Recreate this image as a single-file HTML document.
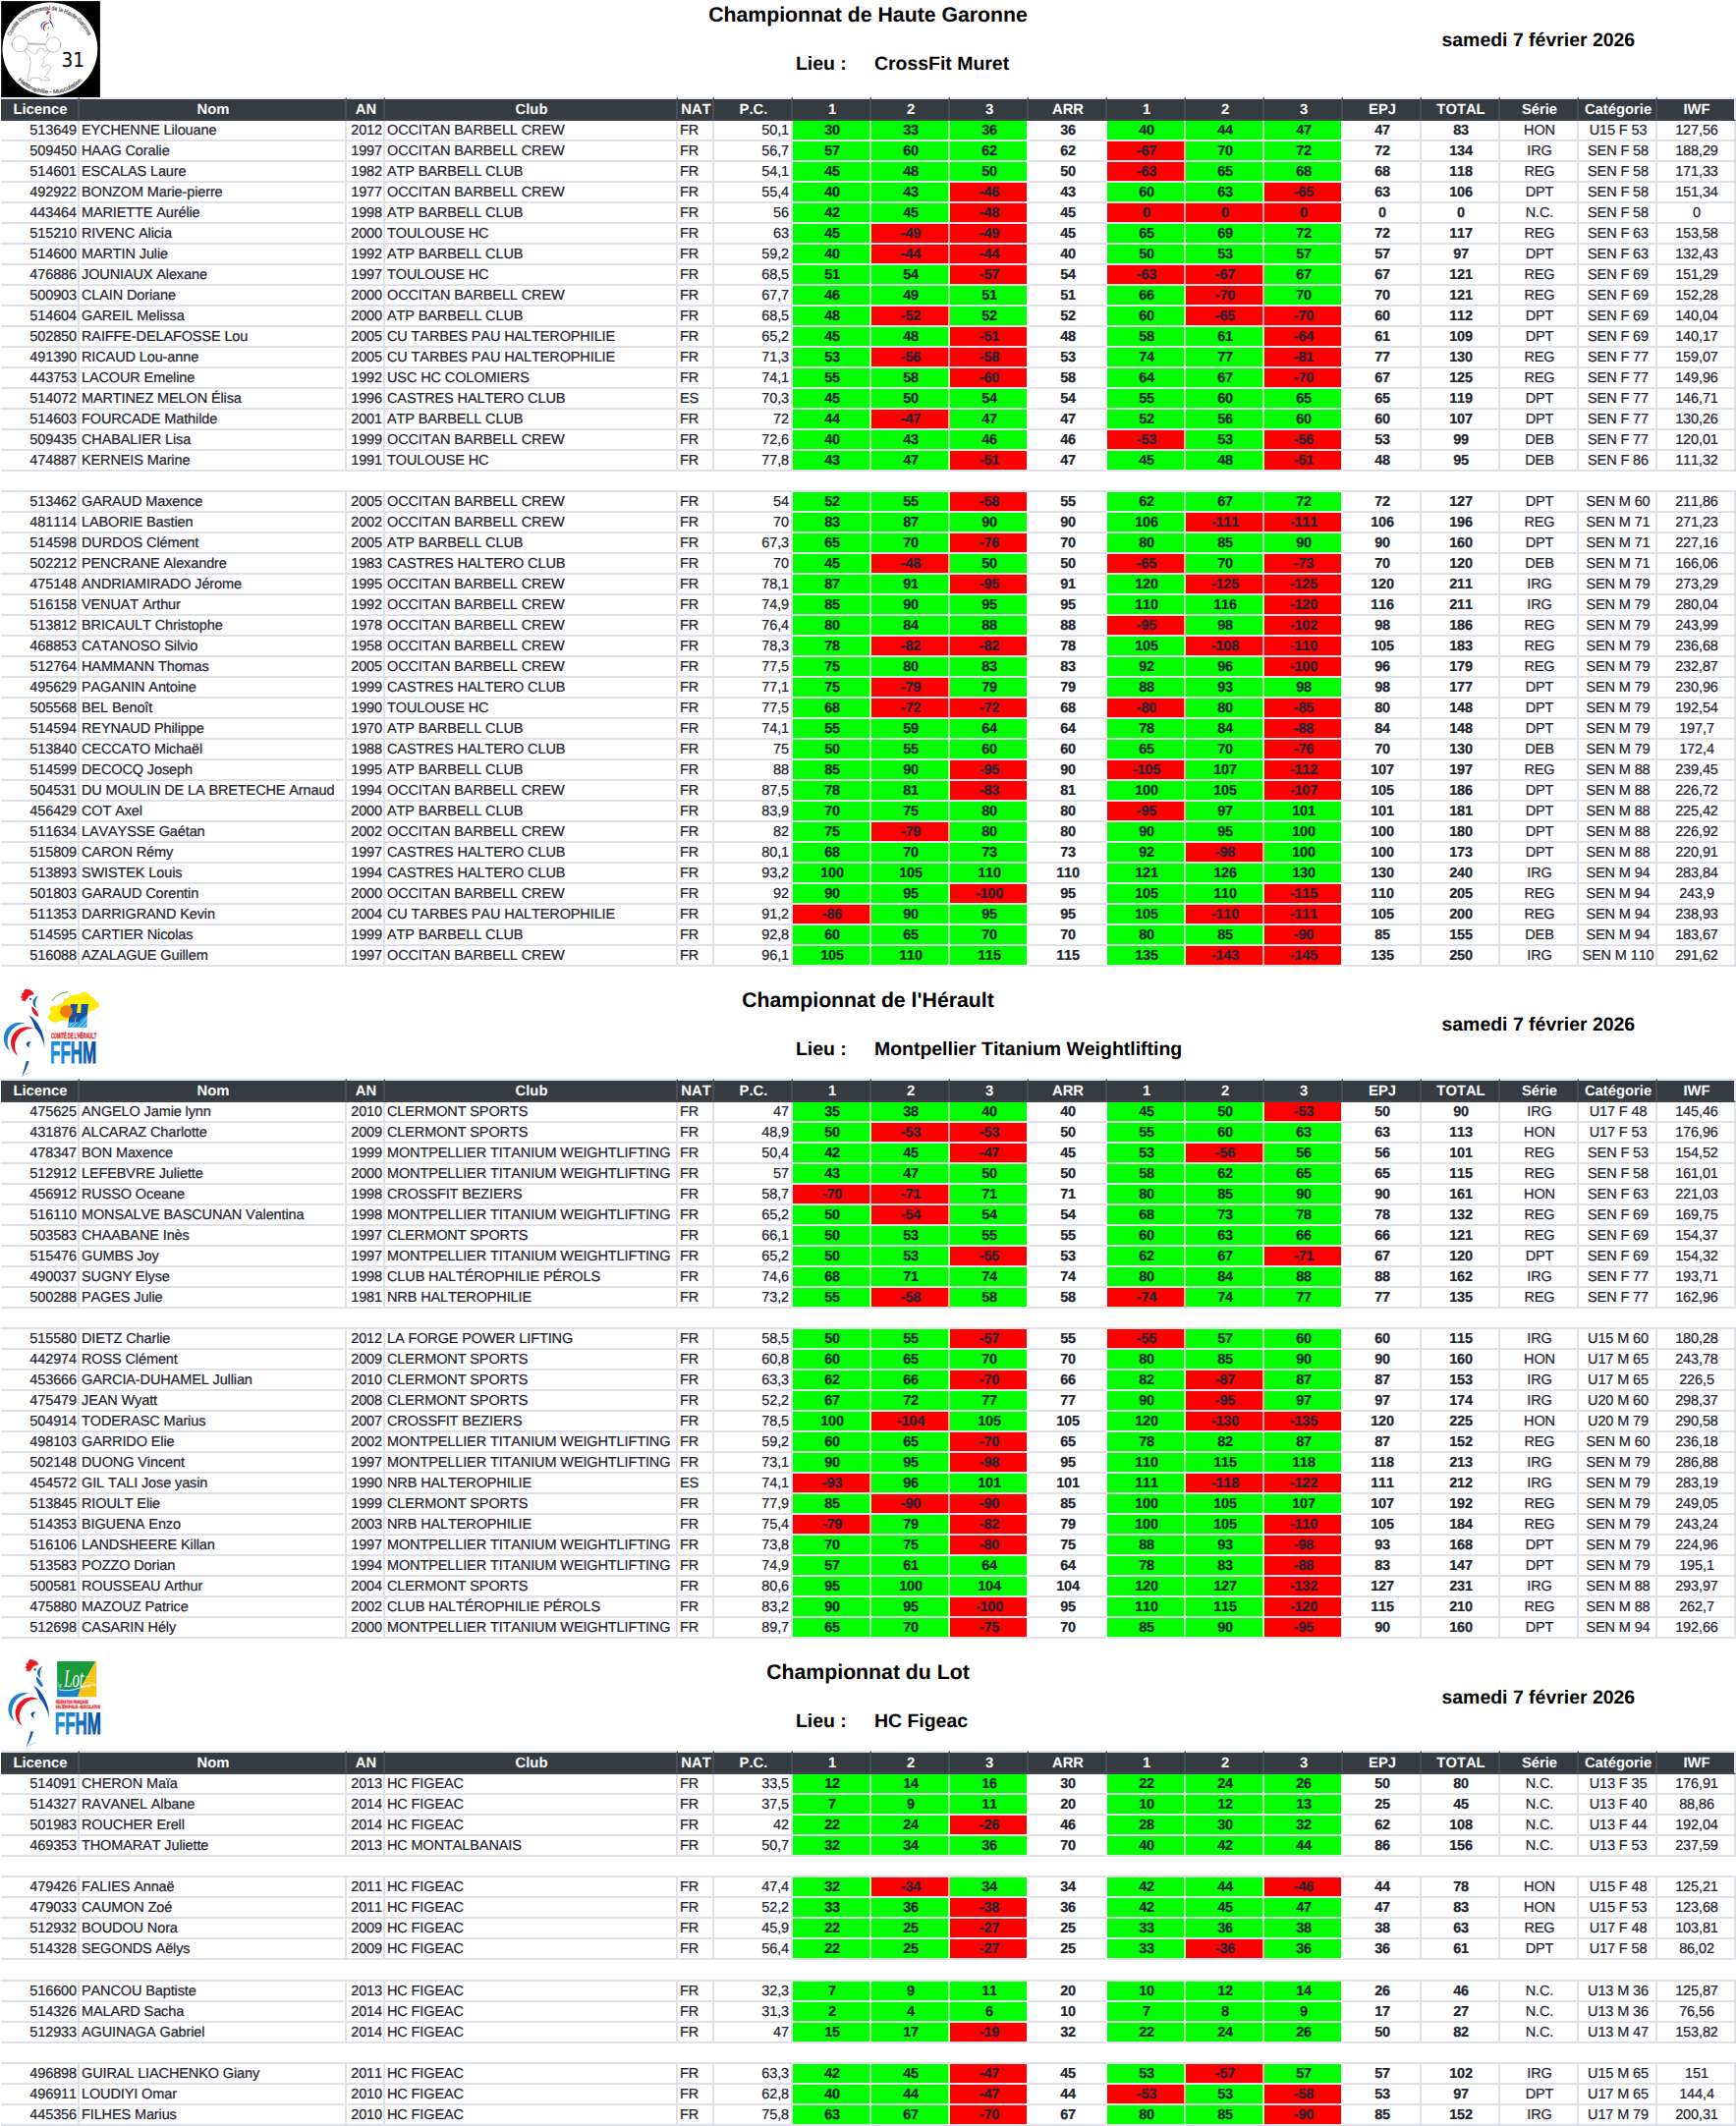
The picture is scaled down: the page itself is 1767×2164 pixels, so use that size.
<!DOCTYPE html>
<html lang="fr">
<head>
<meta charset="utf-8">
<title>Championnats départementaux</title>
<style>
html,body{margin:0;padding:0}
body{text-rendering:geometricPrecision;font-kerning:none;font-feature-settings:"kern" 0;width:1767px;height:2164px;background:#fff;position:relative;overflow:hidden;font-family:"Liberation Sans",sans-serif;color:#1e2330}
h1,.date,.lieu,.logo,table{position:absolute;margin:0}
h1{left:0;width:1767px;text-align:center;font-size:21.25px;line-height:21.25px;font-weight:bold;color:#000;white-space:nowrap}
.date{left:1467.5px;font-size:19.45px;line-height:19.45px;font-weight:bold;color:#000;white-space:nowrap}
.lieu{left:810px;font-size:19.45px;line-height:19.45px;font-weight:bold;color:#000;white-space:nowrap}
.lieu .lv{position:absolute;left:80px;top:0}
.logo{left:0;line-height:0}
.logo svg{display:block}
table{left:1px;width:1766px;border-collapse:separate;border-spacing:0;table-layout:fixed;font-size:14.5px;letter-spacing:-0.12px}
th{letter-spacing:0;box-sizing:border-box;height:24px;padding:2px 0 0 2px;background:#363b42;color:#fff;font-weight:bold;font-size:14.8px;line-height:18px;text-align:center;border-top:2px solid #e2e4e9;border-right:2px solid #4a4f57;border-bottom:2px solid #40454c;white-space:nowrap;overflow:hidden}
th:last-child{border-right-color:#e4e6eb}
td{-webkit-text-stroke:0.22px #1e2330;box-sizing:border-box;height:21px;padding:2px 0 0 2px;line-height:17px;border-right:2px solid #dfe1e7;border-bottom:2px solid #dfe1e7;white-space:nowrap;overflow:hidden;text-align:center}
td.lic{text-align:right;padding-right:1px;padding-left:0}
td.l{text-align:left;padding-left:2px}
td.an{text-align:right;padding-right:1px;padding-left:0}
td.pc{text-align:right;padding-right:2px;padding-left:0}
td.g{background:#00ff00;font-weight:bold;font-size:14.5px;letter-spacing:-0.2px;border-right-color:rgba(255,255,255,.66)}
td.r{background:#ff0000;font-weight:bold;font-size:14.5px;letter-spacing:-0.2px;border-right-color:rgba(255,255,255,.66)}
td.e{border-right-color:#fff}
td.b{font-weight:bold;font-size:14.5px;letter-spacing:-0.2px}
td.a{border-right-color:#fbfbfc}
tr.gap td{border-right:none}
tr.tall td{height:22px}
</style>
</head>
<body>
<section>
<div class="logo" style="top:0px"><svg width="110" height="105" viewBox="0 0 1736 1657" role="img" aria-label="Comité Départemental de la Haute-Garonne">
<defs><linearGradient id="rg1" x1="0" y1="0" x2="0" y2="1"><stop offset="0" stop-color="#0f4ea6"/><stop offset="0.7" stop-color="#1352a8"/><stop offset="1" stop-color="#d5def0"/></linearGradient>
<path id="arcTop" d="M172,586 A670,670 0 0 1 1418,586" fill="none"/>
<path id="arcBot" d="M289,1291 A730,730 0 0 0 1321,1291" fill="none"/>
</defs>
<rect x="18" y="18" width="1590" height="1557" fill="#000"/>
<ellipse cx="803" cy="790" rx="764" ry="751" fill="#fff"/>
<g fill="#fff" stroke="#777" stroke-width="7" stroke-linejoin="round">
<path d="M452,692 L738,704 L738,722 L452,716 Z" fill="#bbb" stroke="#999" stroke-width="4"/>
<circle cx="320" cy="705" r="128"/>
<circle cx="856" cy="720" r="120"/>
<path d="M178,690 L196,700 L196,722 L178,730" fill="none"/>
<path d="M962,692 L980,712 L962,738" fill="none"/>
<path d="M428,772 L545,876 L590,848 L610,792 L655,776 L702,792 L718,832 L770,800 L800,836 L748,886 L692,944 L704,992 L668,1058 L702,1078 L772,1040 L812,1076 L800,1124 L742,1210 L722,1232 L790,1264 L790,1292 L652,1292 L650,1268 L636,1250 L504,1250 L490,1292 L440,1292 L442,1258 L470,1150 L492,1004 L480,924 L396,822 Z"/>
</g>
<g transform="translate(636,142) scale(0.31)">
<path d="M415,108 L470,120 L522,148 L542,188 L500,202 L458,216 L436,258 L402,296 L350,286 L366,254 L332,236 L362,206 L348,176 L386,166 L384,134 Z" fill="#e8161d" stroke="#e8161d" stroke-width="8" stroke-linejoin="round"/>
<circle cx="490" cy="266" r="19" fill="#1c6db5"/>
<path d="M616,212 C536,246 484,338 582,412 C556,338 566,274 616,212 Z" fill="#1668b3"/>
<path d="M512,386 C540,392 600,470 618,528 C620,552 596,552 570,530 C530,490 500,420 512,386 Z" fill="#e8161d"/>
<path d="M462,522 C570,585 665,720 705,900 C716,960 718,1020 714,1078 C700,950 655,830 565,735 C545,660 505,585 462,522 Z" fill="url(#rg1)"/>
<path d="M402,655 A259,259 0 0 0 162,1106 A298,298 0 0 1 402,655 Z" fill="#1d82d2"/>
<path d="M546,745 A252,252 0 0 0 286,1176 A279,279 0 0 1 546,745 Z" fill="#e8161d"/>
<path d="M502,954 C450,938 412,972 428,1002 C440,1030 458,1042 478,1046 C456,1010 464,976 502,954 Z" fill="#114fa3"/>
<path d="M424,1260 L466,1266 C442,1352 402,1442 350,1508 C380,1422 404,1340 424,1260 Z" fill="#1557ab"/>
<path d="M350,1508 L492,1444" stroke="#62b1e3" stroke-width="9" fill="none" stroke-linecap="round"/>
</g>
<text font-family="'Liberation Sans',sans-serif" font-size="92" fill="#444" stroke="#444" stroke-width="3"><textPath href="#arcTop" textLength="1590" lengthAdjust="spacingAndGlyphs">Comité Départemental de la Haute-Garonne</textPath></text>
<text font-family="'Liberation Sans',sans-serif" font-size="88" fill="#444" stroke="#444" stroke-width="3"><textPath href="#arcBot" textLength="1140" lengthAdjust="spacingAndGlyphs">Haltérophilie - Musculation</textPath></text>
<text x="985" y="1080" font-family="'DejaVu Sans',sans-serif" font-size="322" fill="#000" textLength="372" lengthAdjust="spacingAndGlyphs">31</text>
</svg></div>
<h1 style="top:5.31px">Championnat de Haute Garonne</h1>
<div class="date" style="top:32.04px">samedi 7 février 2026</div>
<div class="lieu" style="top:56.04px"><span class="ll">Lieu :</span><span class="lv">CrossFit Muret</span></div>
<table style="top:99px">
<colgroup><col style="width:80px"><col style="width:272px"><col style="width:39px"><col style="width:298px"><col style="width:37px"><col style="width:80px"><col style="width:80px"><col style="width:80px"><col style="width:80px"><col style="width:80px"><col style="width:80px"><col style="width:80px"><col style="width:80px"><col style="width:80px"><col style="width:80px"><col style="width:80px"><col style="width:80px"><col style="width:80px"></colgroup>
<thead><tr><th>Licence</th><th>Nom</th><th>AN</th><th>Club</th><th>NAT</th><th>P.C.</th><th>1</th><th>2</th><th>3</th><th>ARR</th><th>1</th><th>2</th><th>3</th><th>EPJ</th><th>TOTAL</th><th>Série</th><th>Catégorie</th><th>IWF</th></tr></thead>
<tbody>
<tr><td class="lic">513649</td><td class="l">EYCHENNE Lilouane</td><td class="an">2012</td><td class="l">OCCITAN BARBELL CREW</td><td class="l">FR</td><td class="pc">50,1</td><td class="g">30</td><td class="g">33</td><td class="e g">36</td><td class="b a">36</td><td class="g">40</td><td class="g">44</td><td class="e g">47</td><td class="b a2">47</td><td class="b">83</td><td class="c">HON</td><td class="c">U15 F 53</td><td class="c">127,56</td></tr>
<tr><td class="lic">509450</td><td class="l">HAAG Coralie</td><td class="an">1997</td><td class="l">OCCITAN BARBELL CREW</td><td class="l">FR</td><td class="pc">56,7</td><td class="g">57</td><td class="g">60</td><td class="e g">62</td><td class="b a">62</td><td class="r">-67</td><td class="g">70</td><td class="e g">72</td><td class="b a2">72</td><td class="b">134</td><td class="c">IRG</td><td class="c">SEN F 58</td><td class="c">188,29</td></tr>
<tr><td class="lic">514601</td><td class="l">ESCALAS Laure</td><td class="an">1982</td><td class="l">ATP BARBELL CLUB</td><td class="l">FR</td><td class="pc">54,1</td><td class="g">45</td><td class="g">48</td><td class="e g">50</td><td class="b a">50</td><td class="r">-63</td><td class="g">65</td><td class="e g">68</td><td class="b a2">68</td><td class="b">118</td><td class="c">REG</td><td class="c">SEN F 58</td><td class="c">171,33</td></tr>
<tr><td class="lic">492922</td><td class="l">BONZOM Marie-pierre</td><td class="an">1977</td><td class="l">OCCITAN BARBELL CREW</td><td class="l">FR</td><td class="pc">55,4</td><td class="g">40</td><td class="g">43</td><td class="e r">-46</td><td class="b a">43</td><td class="g">60</td><td class="g">63</td><td class="e r">-65</td><td class="b a2">63</td><td class="b">106</td><td class="c">DPT</td><td class="c">SEN F 58</td><td class="c">151,34</td></tr>
<tr><td class="lic">443464</td><td class="l">MARIETTE Aurélie</td><td class="an">1998</td><td class="l">ATP BARBELL CLUB</td><td class="l">FR</td><td class="pc">56</td><td class="g">42</td><td class="g">45</td><td class="e r">-48</td><td class="b a">45</td><td class="r">0</td><td class="r">0</td><td class="e r">0</td><td class="b a2">0</td><td class="b">0</td><td class="c">N.C.</td><td class="c">SEN F 58</td><td class="c">0</td></tr>
<tr><td class="lic">515210</td><td class="l">RIVENC Alicia</td><td class="an">2000</td><td class="l">TOULOUSE HC</td><td class="l">FR</td><td class="pc">63</td><td class="g">45</td><td class="r">-49</td><td class="e r">-49</td><td class="b a">45</td><td class="g">65</td><td class="g">69</td><td class="e g">72</td><td class="b a2">72</td><td class="b">117</td><td class="c">REG</td><td class="c">SEN F 63</td><td class="c">153,58</td></tr>
<tr><td class="lic">514600</td><td class="l">MARTIN Julie</td><td class="an">1992</td><td class="l">ATP BARBELL CLUB</td><td class="l">FR</td><td class="pc">59,2</td><td class="g">40</td><td class="r">-44</td><td class="e r">-44</td><td class="b a">40</td><td class="g">50</td><td class="g">53</td><td class="e g">57</td><td class="b a2">57</td><td class="b">97</td><td class="c">DPT</td><td class="c">SEN F 63</td><td class="c">132,43</td></tr>
<tr><td class="lic">476886</td><td class="l">JOUNIAUX Alexane</td><td class="an">1997</td><td class="l">TOULOUSE HC</td><td class="l">FR</td><td class="pc">68,5</td><td class="g">51</td><td class="g">54</td><td class="e r">-57</td><td class="b a">54</td><td class="r">-63</td><td class="r">-67</td><td class="e g">67</td><td class="b a2">67</td><td class="b">121</td><td class="c">REG</td><td class="c">SEN F 69</td><td class="c">151,29</td></tr>
<tr><td class="lic">500903</td><td class="l">CLAIN Doriane</td><td class="an">2000</td><td class="l">OCCITAN BARBELL CREW</td><td class="l">FR</td><td class="pc">67,7</td><td class="g">46</td><td class="g">49</td><td class="e g">51</td><td class="b a">51</td><td class="g">66</td><td class="r">-70</td><td class="e g">70</td><td class="b a2">70</td><td class="b">121</td><td class="c">REG</td><td class="c">SEN F 69</td><td class="c">152,28</td></tr>
<tr><td class="lic">514604</td><td class="l">GAREIL Melissa</td><td class="an">2000</td><td class="l">ATP BARBELL CLUB</td><td class="l">FR</td><td class="pc">68,5</td><td class="g">48</td><td class="r">-52</td><td class="e g">52</td><td class="b a">52</td><td class="g">60</td><td class="r">-65</td><td class="e r">-70</td><td class="b a2">60</td><td class="b">112</td><td class="c">DPT</td><td class="c">SEN F 69</td><td class="c">140,04</td></tr>
<tr><td class="lic">502850</td><td class="l">RAIFFE-DELAFOSSE Lou</td><td class="an">2005</td><td class="l">CU TARBES PAU HALTEROPHILIE</td><td class="l">FR</td><td class="pc">65,2</td><td class="g">45</td><td class="g">48</td><td class="e r">-51</td><td class="b a">48</td><td class="g">58</td><td class="g">61</td><td class="e r">-64</td><td class="b a2">61</td><td class="b">109</td><td class="c">DPT</td><td class="c">SEN F 69</td><td class="c">140,17</td></tr>
<tr><td class="lic">491390</td><td class="l">RICAUD Lou-anne</td><td class="an">2005</td><td class="l">CU TARBES PAU HALTEROPHILIE</td><td class="l">FR</td><td class="pc">71,3</td><td class="g">53</td><td class="r">-56</td><td class="e r">-58</td><td class="b a">53</td><td class="g">74</td><td class="g">77</td><td class="e r">-81</td><td class="b a2">77</td><td class="b">130</td><td class="c">REG</td><td class="c">SEN F 77</td><td class="c">159,07</td></tr>
<tr><td class="lic">443753</td><td class="l">LACOUR Emeline</td><td class="an">1992</td><td class="l">USC HC COLOMIERS</td><td class="l">FR</td><td class="pc">74,1</td><td class="g">55</td><td class="g">58</td><td class="e r">-60</td><td class="b a">58</td><td class="g">64</td><td class="g">67</td><td class="e r">-70</td><td class="b a2">67</td><td class="b">125</td><td class="c">REG</td><td class="c">SEN F 77</td><td class="c">149,96</td></tr>
<tr><td class="lic">514072</td><td class="l">MARTINEZ MELON Élisa</td><td class="an">1996</td><td class="l">CASTRES HALTERO CLUB</td><td class="l">ES</td><td class="pc">70,3</td><td class="g">45</td><td class="g">50</td><td class="e g">54</td><td class="b a">54</td><td class="g">55</td><td class="g">60</td><td class="e g">65</td><td class="b a2">65</td><td class="b">119</td><td class="c">DPT</td><td class="c">SEN F 77</td><td class="c">146,71</td></tr>
<tr><td class="lic">514603</td><td class="l">FOURCADE Mathilde</td><td class="an">2001</td><td class="l">ATP BARBELL CLUB</td><td class="l">FR</td><td class="pc">72</td><td class="g">44</td><td class="r">-47</td><td class="e g">47</td><td class="b a">47</td><td class="g">52</td><td class="g">56</td><td class="e g">60</td><td class="b a2">60</td><td class="b">107</td><td class="c">DPT</td><td class="c">SEN F 77</td><td class="c">130,26</td></tr>
<tr><td class="lic">509435</td><td class="l">CHABALIER Lisa</td><td class="an">1999</td><td class="l">OCCITAN BARBELL CREW</td><td class="l">FR</td><td class="pc">72,6</td><td class="g">40</td><td class="g">43</td><td class="e g">46</td><td class="b a">46</td><td class="r">-53</td><td class="g">53</td><td class="e r">-56</td><td class="b a2">53</td><td class="b">99</td><td class="c">DEB</td><td class="c">SEN F 77</td><td class="c">120,01</td></tr>
<tr><td class="lic">474887</td><td class="l">KERNEIS Marine</td><td class="an">1991</td><td class="l">TOULOUSE HC</td><td class="l">FR</td><td class="pc">77,8</td><td class="g">43</td><td class="g">47</td><td class="e r">-51</td><td class="b a">47</td><td class="g">45</td><td class="g">48</td><td class="e r">-51</td><td class="b a2">48</td><td class="b">95</td><td class="c">DEB</td><td class="c">SEN F 86</td><td class="c">111,32</td></tr>
<tr class="gap"><td colspan="18"></td></tr>
<tr><td class="lic">513462</td><td class="l">GARAUD Maxence</td><td class="an">2005</td><td class="l">OCCITAN BARBELL CREW</td><td class="l">FR</td><td class="pc">54</td><td class="g">52</td><td class="g">55</td><td class="e r">-58</td><td class="b a">55</td><td class="g">62</td><td class="g">67</td><td class="e g">72</td><td class="b a2">72</td><td class="b">127</td><td class="c">DPT</td><td class="c">SEN M 60</td><td class="c">211,86</td></tr>
<tr><td class="lic">481114</td><td class="l">LABORIE Bastien</td><td class="an">2002</td><td class="l">OCCITAN BARBELL CREW</td><td class="l">FR</td><td class="pc">70</td><td class="g">83</td><td class="g">87</td><td class="e g">90</td><td class="b a">90</td><td class="g">106</td><td class="r">-111</td><td class="e r">-111</td><td class="b a2">106</td><td class="b">196</td><td class="c">REG</td><td class="c">SEN M 71</td><td class="c">271,23</td></tr>
<tr><td class="lic">514598</td><td class="l">DURDOS Clément</td><td class="an">2005</td><td class="l">ATP BARBELL CLUB</td><td class="l">FR</td><td class="pc">67,3</td><td class="g">65</td><td class="g">70</td><td class="e r">-76</td><td class="b a">70</td><td class="g">80</td><td class="g">85</td><td class="e g">90</td><td class="b a2">90</td><td class="b">160</td><td class="c">DPT</td><td class="c">SEN M 71</td><td class="c">227,16</td></tr>
<tr><td class="lic">502212</td><td class="l">PENCRANE Alexandre</td><td class="an">1983</td><td class="l">CASTRES HALTERO CLUB</td><td class="l">FR</td><td class="pc">70</td><td class="g">45</td><td class="r">-48</td><td class="e g">50</td><td class="b a">50</td><td class="r">-65</td><td class="g">70</td><td class="e r">-73</td><td class="b a2">70</td><td class="b">120</td><td class="c">DEB</td><td class="c">SEN M 71</td><td class="c">166,06</td></tr>
<tr><td class="lic">475148</td><td class="l">ANDRIAMIRADO Jérome</td><td class="an">1995</td><td class="l">OCCITAN BARBELL CREW</td><td class="l">FR</td><td class="pc">78,1</td><td class="g">87</td><td class="g">91</td><td class="e r">-95</td><td class="b a">91</td><td class="g">120</td><td class="r">-125</td><td class="e r">-125</td><td class="b a2">120</td><td class="b">211</td><td class="c">IRG</td><td class="c">SEN M 79</td><td class="c">273,29</td></tr>
<tr><td class="lic">516158</td><td class="l">VENUAT Arthur</td><td class="an">1992</td><td class="l">OCCITAN BARBELL CREW</td><td class="l">FR</td><td class="pc">74,9</td><td class="g">85</td><td class="g">90</td><td class="e g">95</td><td class="b a">95</td><td class="g">110</td><td class="g">116</td><td class="e r">-120</td><td class="b a2">116</td><td class="b">211</td><td class="c">IRG</td><td class="c">SEN M 79</td><td class="c">280,04</td></tr>
<tr><td class="lic">513812</td><td class="l">BRICAULT Christophe</td><td class="an">1978</td><td class="l">OCCITAN BARBELL CREW</td><td class="l">FR</td><td class="pc">76,4</td><td class="g">80</td><td class="g">84</td><td class="e g">88</td><td class="b a">88</td><td class="r">-95</td><td class="g">98</td><td class="e r">-102</td><td class="b a2">98</td><td class="b">186</td><td class="c">REG</td><td class="c">SEN M 79</td><td class="c">243,99</td></tr>
<tr><td class="lic">468853</td><td class="l">CATANOSO Silvio</td><td class="an">1958</td><td class="l">OCCITAN BARBELL CREW</td><td class="l">FR</td><td class="pc">78,3</td><td class="g">78</td><td class="r">-82</td><td class="e r">-82</td><td class="b a">78</td><td class="g">105</td><td class="r">-108</td><td class="e r">-110</td><td class="b a2">105</td><td class="b">183</td><td class="c">REG</td><td class="c">SEN M 79</td><td class="c">236,68</td></tr>
<tr><td class="lic">512764</td><td class="l">HAMMANN Thomas</td><td class="an">2005</td><td class="l">OCCITAN BARBELL CREW</td><td class="l">FR</td><td class="pc">77,5</td><td class="g">75</td><td class="g">80</td><td class="e g">83</td><td class="b a">83</td><td class="g">92</td><td class="g">96</td><td class="e r">-100</td><td class="b a2">96</td><td class="b">179</td><td class="c">REG</td><td class="c">SEN M 79</td><td class="c">232,87</td></tr>
<tr><td class="lic">495629</td><td class="l">PAGANIN Antoine</td><td class="an">1999</td><td class="l">CASTRES HALTERO CLUB</td><td class="l">FR</td><td class="pc">77,1</td><td class="g">75</td><td class="r">-79</td><td class="e g">79</td><td class="b a">79</td><td class="g">88</td><td class="g">93</td><td class="e g">98</td><td class="b a2">98</td><td class="b">177</td><td class="c">DPT</td><td class="c">SEN M 79</td><td class="c">230,96</td></tr>
<tr><td class="lic">505568</td><td class="l">BEL Benoît</td><td class="an">1990</td><td class="l">TOULOUSE HC</td><td class="l">FR</td><td class="pc">77,5</td><td class="g">68</td><td class="r">-72</td><td class="e r">-72</td><td class="b a">68</td><td class="r">-80</td><td class="g">80</td><td class="e r">-85</td><td class="b a2">80</td><td class="b">148</td><td class="c">DPT</td><td class="c">SEN M 79</td><td class="c">192,54</td></tr>
<tr><td class="lic">514594</td><td class="l">REYNAUD Philippe</td><td class="an">1970</td><td class="l">ATP BARBELL CLUB</td><td class="l">FR</td><td class="pc">74,1</td><td class="g">55</td><td class="g">59</td><td class="e g">64</td><td class="b a">64</td><td class="g">78</td><td class="g">84</td><td class="e r">-88</td><td class="b a2">84</td><td class="b">148</td><td class="c">DPT</td><td class="c">SEN M 79</td><td class="c">197,7</td></tr>
<tr><td class="lic">513840</td><td class="l">CECCATO Michaël</td><td class="an">1988</td><td class="l">CASTRES HALTERO CLUB</td><td class="l">FR</td><td class="pc">75</td><td class="g">50</td><td class="g">55</td><td class="e g">60</td><td class="b a">60</td><td class="g">65</td><td class="g">70</td><td class="e r">-76</td><td class="b a2">70</td><td class="b">130</td><td class="c">DEB</td><td class="c">SEN M 79</td><td class="c">172,4</td></tr>
<tr><td class="lic">514599</td><td class="l">DECOCQ Joseph</td><td class="an">1995</td><td class="l">ATP BARBELL CLUB</td><td class="l">FR</td><td class="pc">88</td><td class="g">85</td><td class="g">90</td><td class="e r">-95</td><td class="b a">90</td><td class="r">-105</td><td class="g">107</td><td class="e r">-112</td><td class="b a2">107</td><td class="b">197</td><td class="c">REG</td><td class="c">SEN M 88</td><td class="c">239,45</td></tr>
<tr><td class="lic">504531</td><td class="l">DU MOULIN DE LA BRETECHE Arnaud</td><td class="an">1994</td><td class="l">OCCITAN BARBELL CREW</td><td class="l">FR</td><td class="pc">87,5</td><td class="g">78</td><td class="g">81</td><td class="e r">-83</td><td class="b a">81</td><td class="g">100</td><td class="g">105</td><td class="e r">-107</td><td class="b a2">105</td><td class="b">186</td><td class="c">DPT</td><td class="c">SEN M 88</td><td class="c">226,72</td></tr>
<tr><td class="lic">456429</td><td class="l">COT Axel</td><td class="an">2000</td><td class="l">ATP BARBELL CLUB</td><td class="l">FR</td><td class="pc">83,9</td><td class="g">70</td><td class="g">75</td><td class="e g">80</td><td class="b a">80</td><td class="r">-95</td><td class="g">97</td><td class="e g">101</td><td class="b a2">101</td><td class="b">181</td><td class="c">DPT</td><td class="c">SEN M 88</td><td class="c">225,42</td></tr>
<tr><td class="lic">511634</td><td class="l">LAVAYSSE Gaétan</td><td class="an">2002</td><td class="l">OCCITAN BARBELL CREW</td><td class="l">FR</td><td class="pc">82</td><td class="g">75</td><td class="r">-79</td><td class="e g">80</td><td class="b a">80</td><td class="g">90</td><td class="g">95</td><td class="e g">100</td><td class="b a2">100</td><td class="b">180</td><td class="c">DPT</td><td class="c">SEN M 88</td><td class="c">226,92</td></tr>
<tr><td class="lic">515809</td><td class="l">CARON Rémy</td><td class="an">1997</td><td class="l">CASTRES HALTERO CLUB</td><td class="l">FR</td><td class="pc">80,1</td><td class="g">68</td><td class="g">70</td><td class="e g">73</td><td class="b a">73</td><td class="g">92</td><td class="r">-98</td><td class="e g">100</td><td class="b a2">100</td><td class="b">173</td><td class="c">DPT</td><td class="c">SEN M 88</td><td class="c">220,91</td></tr>
<tr><td class="lic">513893</td><td class="l">SWISTEK Louis</td><td class="an">1994</td><td class="l">CASTRES HALTERO CLUB</td><td class="l">FR</td><td class="pc">93,2</td><td class="g">100</td><td class="g">105</td><td class="e g">110</td><td class="b a">110</td><td class="g">121</td><td class="g">126</td><td class="e g">130</td><td class="b a2">130</td><td class="b">240</td><td class="c">IRG</td><td class="c">SEN M 94</td><td class="c">283,84</td></tr>
<tr><td class="lic">501803</td><td class="l">GARAUD Corentin</td><td class="an">2000</td><td class="l">OCCITAN BARBELL CREW</td><td class="l">FR</td><td class="pc">92</td><td class="g">90</td><td class="g">95</td><td class="e r">-100</td><td class="b a">95</td><td class="g">105</td><td class="g">110</td><td class="e r">-115</td><td class="b a2">110</td><td class="b">205</td><td class="c">REG</td><td class="c">SEN M 94</td><td class="c">243,9</td></tr>
<tr><td class="lic">511353</td><td class="l">DARRIGRAND Kevin</td><td class="an">2004</td><td class="l">CU TARBES PAU HALTEROPHILIE</td><td class="l">FR</td><td class="pc">91,2</td><td class="r">-86</td><td class="g">90</td><td class="e g">95</td><td class="b a">95</td><td class="g">105</td><td class="r">-110</td><td class="e r">-111</td><td class="b a2">105</td><td class="b">200</td><td class="c">REG</td><td class="c">SEN M 94</td><td class="c">238,93</td></tr>
<tr><td class="lic">514595</td><td class="l">CARTIER Nicolas</td><td class="an">1999</td><td class="l">ATP BARBELL CLUB</td><td class="l">FR</td><td class="pc">92,8</td><td class="g">60</td><td class="g">65</td><td class="e g">70</td><td class="b a">70</td><td class="g">80</td><td class="g">85</td><td class="e r">-90</td><td class="b a2">85</td><td class="b">155</td><td class="c">DEB</td><td class="c">SEN M 94</td><td class="c">183,67</td></tr>
<tr><td class="lic">516088</td><td class="l">AZALAGUE Guillem</td><td class="an">1997</td><td class="l">OCCITAN BARBELL CREW</td><td class="l">FR</td><td class="pc">96,1</td><td class="g">105</td><td class="g">110</td><td class="e g">115</td><td class="b a">115</td><td class="g">135</td><td class="r">-143</td><td class="e r">-145</td><td class="b a2">135</td><td class="b">250</td><td class="c">IRG</td><td class="c">SEN M 110</td><td class="c">291,62</td></tr>
</tbody>
</table>
</section>
<section>
<div class="logo" style="top:1000px"><svg width="110" height="100" viewBox="0 0 1736 1578" role="img" aria-label="FFHM Comité de l'Hérault">
<defs><linearGradient id="rg2" x1="0" y1="0" x2="0" y2="1"><stop offset="0" stop-color="#0f4ea6"/><stop offset="0.7" stop-color="#1352a8"/><stop offset="1" stop-color="#d5def0"/></linearGradient><linearGradient id="fg2" x1="0" y1="0" x2="1" y2="0"><stop offset="0" stop-color="#1c97de"/><stop offset="0.5" stop-color="#1378c6"/><stop offset="1" stop-color="#0a479d"/></linearGradient></defs>
<g transform="translate(0,0) scale(1)">
<path d="M415,108 L470,120 L522,148 L542,188 L500,202 L458,216 L436,258 L402,296 L350,286 L366,254 L332,236 L362,206 L348,176 L386,166 L384,134 Z" fill="#e8161d" stroke="#e8161d" stroke-width="8" stroke-linejoin="round"/>
<circle cx="490" cy="266" r="19" fill="#1c6db5"/>
<path d="M616,212 C536,246 484,338 582,412 C556,338 566,274 616,212 Z" fill="#1668b3"/>
<path d="M512,386 C540,392 600,470 618,528 C620,552 596,552 570,530 C530,490 500,420 512,386 Z" fill="#e8161d"/>
<path d="M462,522 C570,585 665,720 705,900 C716,960 718,1020 714,1078 C700,950 655,830 565,735 C545,660 505,585 462,522 Z" fill="url(#rg2)"/>
<path d="M402,655 A259,259 0 0 0 162,1106 A298,298 0 0 1 402,655 Z" fill="#1d82d2"/>
<path d="M546,745 A252,252 0 0 0 286,1176 A279,279 0 0 1 546,745 Z" fill="#e8161d"/>
<path d="M502,954 C450,938 412,972 428,1002 C440,1030 458,1042 478,1046 C456,1010 464,976 502,954 Z" fill="#114fa3"/>
<path d="M424,1260 L466,1266 C442,1352 402,1442 350,1508 C380,1422 404,1340 424,1260 Z" fill="#1557ab"/>
<path d="M350,1508 L492,1444" stroke="#62b1e3" stroke-width="9" fill="none" stroke-linecap="round"/>
</g>
<path d="M842,292 Q905,180 1082,152" stroke="#43b02a" stroke-width="15" fill="none" stroke-linecap="round"/>
<path d="M835,372 L900,385 L962,358 L1022,336 L1032,268 L1100,256 L1122,214 L1200,206 L1290,186 L1352,154 L1420,176 L1442,216 L1482,236 L1532,292 L1592,346 L1586,386 L1502,440 L1432,470 L1402,520 L1332,560 L1252,600 L1152,622 L1082,610 L1002,600 L932,626 L880,640 L800,600 L764,566 L800,520 L830,480 L810,430 Z" fill="#ffee00" stroke="#f6c900" stroke-width="5" stroke-linejoin="round"/>
<path d="M1402,520 L1396,722 L1082,722 L1100,640 L1252,600 Z" fill="#2aa3e2"/>
<path d="M1090,700 L1240,610 M1150,722 L1300,585 M1260,722 L1400,560 M1330,722 L1400,640" stroke="#fff" stroke-width="10" fill="none"/>
<path d="M1135,348 L1248,348 L1232,488 L1298,488 L1306,348 L1420,348 L1400,520 L1300,590 L1270,640 L1215,640 L1222,546 L1216,546 L1200,640 L1100,640 Z" fill="#1d4fa6"/>
<circle cx="1065" cy="465" r="100" fill="#f07c00"/>
<text x="820" y="893" font-family="'Liberation Sans',sans-serif" font-weight="bold" font-size="126" fill="#e0242c" stroke="#e0242c" stroke-width="5" textLength="730" lengthAdjust="spacingAndGlyphs">COMITÉ DE L'HÉRAULT</text>
<text x="806" y="1298" font-family="'Liberation Sans',sans-serif" font-weight="bold" font-size="496" fill="url(#fg2)" stroke="url(#fg2)" stroke-width="14" textLength="745" lengthAdjust="spacingAndGlyphs">FFHM</text>
</svg></div>
<h1 style="top:1007.91px">Championnat de l&#x27;Hérault</h1>
<div class="date" style="top:1033.64px">samedi 7 février 2026</div>
<div class="lieu" style="top:1059.04px"><span class="ll">Lieu :</span><span class="lv">Montpellier Titanium Weightlifting</span></div>
<table style="top:1098px">
<colgroup><col style="width:80px"><col style="width:272px"><col style="width:39px"><col style="width:298px"><col style="width:37px"><col style="width:80px"><col style="width:80px"><col style="width:80px"><col style="width:80px"><col style="width:80px"><col style="width:80px"><col style="width:80px"><col style="width:80px"><col style="width:80px"><col style="width:80px"><col style="width:80px"><col style="width:80px"><col style="width:80px"></colgroup>
<thead><tr><th>Licence</th><th>Nom</th><th>AN</th><th>Club</th><th>NAT</th><th>P.C.</th><th>1</th><th>2</th><th>3</th><th>ARR</th><th>1</th><th>2</th><th>3</th><th>EPJ</th><th>TOTAL</th><th>Série</th><th>Catégorie</th><th>IWF</th></tr></thead>
<tbody>
<tr><td class="lic">475625</td><td class="l">ANGELO Jamie lynn</td><td class="an">2010</td><td class="l">CLERMONT SPORTS</td><td class="l">FR</td><td class="pc">47</td><td class="g">35</td><td class="g">38</td><td class="e g">40</td><td class="b a">40</td><td class="g">45</td><td class="g">50</td><td class="e r">-53</td><td class="b a2">50</td><td class="b">90</td><td class="c">IRG</td><td class="c">U17 F 48</td><td class="c">145,46</td></tr>
<tr><td class="lic">431876</td><td class="l">ALCARAZ Charlotte</td><td class="an">2009</td><td class="l">CLERMONT SPORTS</td><td class="l">FR</td><td class="pc">48,9</td><td class="g">50</td><td class="r">-53</td><td class="e r">-53</td><td class="b a">50</td><td class="g">55</td><td class="g">60</td><td class="e g">63</td><td class="b a2">63</td><td class="b">113</td><td class="c">HON</td><td class="c">U17 F 53</td><td class="c">176,96</td></tr>
<tr><td class="lic">478347</td><td class="l">BON Maxence</td><td class="an">1999</td><td class="l">MONTPELLIER TITANIUM WEIGHTLIFTING</td><td class="l">FR</td><td class="pc">50,4</td><td class="g">42</td><td class="g">45</td><td class="e r">-47</td><td class="b a">45</td><td class="g">53</td><td class="r">-56</td><td class="e g">56</td><td class="b a2">56</td><td class="b">101</td><td class="c">REG</td><td class="c">SEN F 53</td><td class="c">154,52</td></tr>
<tr><td class="lic">512912</td><td class="l">LEFEBVRE Juliette</td><td class="an">2000</td><td class="l">MONTPELLIER TITANIUM WEIGHTLIFTING</td><td class="l">FR</td><td class="pc">57</td><td class="g">43</td><td class="g">47</td><td class="e g">50</td><td class="b a">50</td><td class="g">58</td><td class="g">62</td><td class="e g">65</td><td class="b a2">65</td><td class="b">115</td><td class="c">REG</td><td class="c">SEN F 58</td><td class="c">161,01</td></tr>
<tr><td class="lic">456912</td><td class="l">RUSSO Oceane</td><td class="an">1998</td><td class="l">CROSSFIT BEZIERS</td><td class="l">FR</td><td class="pc">58,7</td><td class="r">-70</td><td class="r">-71</td><td class="e g">71</td><td class="b a">71</td><td class="g">80</td><td class="g">85</td><td class="e g">90</td><td class="b a2">90</td><td class="b">161</td><td class="c">HON</td><td class="c">SEN F 63</td><td class="c">221,03</td></tr>
<tr><td class="lic">516110</td><td class="l">MONSALVE BASCUNAN Valentina</td><td class="an">1998</td><td class="l">MONTPELLIER TITANIUM WEIGHTLIFTING</td><td class="l">FR</td><td class="pc">65,2</td><td class="g">50</td><td class="r">-54</td><td class="e g">54</td><td class="b a">54</td><td class="g">68</td><td class="g">73</td><td class="e g">78</td><td class="b a2">78</td><td class="b">132</td><td class="c">REG</td><td class="c">SEN F 69</td><td class="c">169,75</td></tr>
<tr><td class="lic">503583</td><td class="l">CHAABANE Inès</td><td class="an">1997</td><td class="l">CLERMONT SPORTS</td><td class="l">FR</td><td class="pc">66,1</td><td class="g">50</td><td class="g">53</td><td class="e g">55</td><td class="b a">55</td><td class="g">60</td><td class="g">63</td><td class="e g">66</td><td class="b a2">66</td><td class="b">121</td><td class="c">REG</td><td class="c">SEN F 69</td><td class="c">154,37</td></tr>
<tr><td class="lic">515476</td><td class="l">GUMBS Joy</td><td class="an">1997</td><td class="l">MONTPELLIER TITANIUM WEIGHTLIFTING</td><td class="l">FR</td><td class="pc">65,2</td><td class="g">50</td><td class="g">53</td><td class="e r">-55</td><td class="b a">53</td><td class="g">62</td><td class="g">67</td><td class="e r">-71</td><td class="b a2">67</td><td class="b">120</td><td class="c">DPT</td><td class="c">SEN F 69</td><td class="c">154,32</td></tr>
<tr><td class="lic">490037</td><td class="l">SUGNY Elyse</td><td class="an">1998</td><td class="l">CLUB HALTÉROPHILIE PÉROLS</td><td class="l">FR</td><td class="pc">74,6</td><td class="g">68</td><td class="g">71</td><td class="e g">74</td><td class="b a">74</td><td class="g">80</td><td class="g">84</td><td class="e g">88</td><td class="b a2">88</td><td class="b">162</td><td class="c">IRG</td><td class="c">SEN F 77</td><td class="c">193,71</td></tr>
<tr><td class="lic">500288</td><td class="l">PAGES Julie</td><td class="an">1981</td><td class="l">NRB HALTEROPHILIE</td><td class="l">FR</td><td class="pc">73,2</td><td class="g">55</td><td class="r">-58</td><td class="e g">58</td><td class="b a">58</td><td class="r">-74</td><td class="g">74</td><td class="e g">77</td><td class="b a2">77</td><td class="b">135</td><td class="c">REG</td><td class="c">SEN F 77</td><td class="c">162,96</td></tr>
<tr class="gap"><td colspan="18"></td></tr>
<tr><td class="lic">515580</td><td class="l">DIETZ Charlie</td><td class="an">2012</td><td class="l">LA FORGE POWER LIFTING</td><td class="l">FR</td><td class="pc">58,5</td><td class="g">50</td><td class="g">55</td><td class="e r">-57</td><td class="b a">55</td><td class="r">-55</td><td class="g">57</td><td class="e g">60</td><td class="b a2">60</td><td class="b">115</td><td class="c">IRG</td><td class="c">U15 M 60</td><td class="c">180,28</td></tr>
<tr><td class="lic">442974</td><td class="l">ROSS Clément</td><td class="an">2009</td><td class="l">CLERMONT SPORTS</td><td class="l">FR</td><td class="pc">60,8</td><td class="g">60</td><td class="g">65</td><td class="e g">70</td><td class="b a">70</td><td class="g">80</td><td class="g">85</td><td class="e g">90</td><td class="b a2">90</td><td class="b">160</td><td class="c">HON</td><td class="c">U17 M 65</td><td class="c">243,78</td></tr>
<tr><td class="lic">453666</td><td class="l">GARCIA-DUHAMEL Jullian</td><td class="an">2010</td><td class="l">CLERMONT SPORTS</td><td class="l">FR</td><td class="pc">63,3</td><td class="g">62</td><td class="g">66</td><td class="e r">-70</td><td class="b a">66</td><td class="g">82</td><td class="r">-87</td><td class="e g">87</td><td class="b a2">87</td><td class="b">153</td><td class="c">IRG</td><td class="c">U17 M 65</td><td class="c">226,5</td></tr>
<tr><td class="lic">475479</td><td class="l">JEAN Wyatt</td><td class="an">2008</td><td class="l">CLERMONT SPORTS</td><td class="l">FR</td><td class="pc">52,2</td><td class="g">67</td><td class="g">72</td><td class="e g">77</td><td class="b a">77</td><td class="g">90</td><td class="r">-95</td><td class="e g">97</td><td class="b a2">97</td><td class="b">174</td><td class="c">IRG</td><td class="c">U20 M 60</td><td class="c">298,37</td></tr>
<tr><td class="lic">504914</td><td class="l">TODERASC Marius</td><td class="an">2007</td><td class="l">CROSSFIT BEZIERS</td><td class="l">FR</td><td class="pc">78,5</td><td class="g">100</td><td class="r">-104</td><td class="e g">105</td><td class="b a">105</td><td class="g">120</td><td class="r">-130</td><td class="e r">-135</td><td class="b a2">120</td><td class="b">225</td><td class="c">HON</td><td class="c">U20 M 79</td><td class="c">290,58</td></tr>
<tr><td class="lic">498103</td><td class="l">GARRIDO Elie</td><td class="an">2002</td><td class="l">MONTPELLIER TITANIUM WEIGHTLIFTING</td><td class="l">FR</td><td class="pc">59,2</td><td class="g">60</td><td class="g">65</td><td class="e r">-70</td><td class="b a">65</td><td class="g">78</td><td class="g">82</td><td class="e g">87</td><td class="b a2">87</td><td class="b">152</td><td class="c">REG</td><td class="c">SEN M 60</td><td class="c">236,18</td></tr>
<tr><td class="lic">502148</td><td class="l">DUONG Vincent</td><td class="an">1997</td><td class="l">MONTPELLIER TITANIUM WEIGHTLIFTING</td><td class="l">FR</td><td class="pc">73,1</td><td class="g">90</td><td class="g">95</td><td class="e r">-98</td><td class="b a">95</td><td class="g">110</td><td class="g">115</td><td class="e g">118</td><td class="b a2">118</td><td class="b">213</td><td class="c">IRG</td><td class="c">SEN M 79</td><td class="c">286,88</td></tr>
<tr><td class="lic">454572</td><td class="l">GIL TALI Jose yasin</td><td class="an">1990</td><td class="l">NRB HALTEROPHILIE</td><td class="l">ES</td><td class="pc">74,1</td><td class="r">-93</td><td class="g">96</td><td class="e g">101</td><td class="b a">101</td><td class="g">111</td><td class="r">-118</td><td class="e r">-122</td><td class="b a2">111</td><td class="b">212</td><td class="c">IRG</td><td class="c">SEN M 79</td><td class="c">283,19</td></tr>
<tr><td class="lic">513845</td><td class="l">RIOULT Elie</td><td class="an">1999</td><td class="l">CLERMONT SPORTS</td><td class="l">FR</td><td class="pc">77,9</td><td class="g">85</td><td class="r">-90</td><td class="e r">-90</td><td class="b a">85</td><td class="g">100</td><td class="g">105</td><td class="e g">107</td><td class="b a2">107</td><td class="b">192</td><td class="c">REG</td><td class="c">SEN M 79</td><td class="c">249,05</td></tr>
<tr><td class="lic">514353</td><td class="l">BIGUENA Enzo</td><td class="an">2003</td><td class="l">NRB HALTEROPHILIE</td><td class="l">FR</td><td class="pc">75,4</td><td class="r">-79</td><td class="g">79</td><td class="e r">-82</td><td class="b a">79</td><td class="g">100</td><td class="g">105</td><td class="e r">-110</td><td class="b a2">105</td><td class="b">184</td><td class="c">REG</td><td class="c">SEN M 79</td><td class="c">243,24</td></tr>
<tr><td class="lic">516106</td><td class="l">LANDSHEERE Killan</td><td class="an">1997</td><td class="l">MONTPELLIER TITANIUM WEIGHTLIFTING</td><td class="l">FR</td><td class="pc">73,8</td><td class="g">70</td><td class="g">75</td><td class="e r">-80</td><td class="b a">75</td><td class="g">88</td><td class="g">93</td><td class="e r">-98</td><td class="b a2">93</td><td class="b">168</td><td class="c">DPT</td><td class="c">SEN M 79</td><td class="c">224,96</td></tr>
<tr><td class="lic">513583</td><td class="l">POZZO Dorian</td><td class="an">1994</td><td class="l">MONTPELLIER TITANIUM WEIGHTLIFTING</td><td class="l">FR</td><td class="pc">74,9</td><td class="g">57</td><td class="g">61</td><td class="e g">64</td><td class="b a">64</td><td class="g">78</td><td class="g">83</td><td class="e r">-88</td><td class="b a2">83</td><td class="b">147</td><td class="c">DPT</td><td class="c">SEN M 79</td><td class="c">195,1</td></tr>
<tr><td class="lic">500581</td><td class="l">ROUSSEAU Arthur</td><td class="an">2004</td><td class="l">CLERMONT SPORTS</td><td class="l">FR</td><td class="pc">80,6</td><td class="g">95</td><td class="g">100</td><td class="e g">104</td><td class="b a">104</td><td class="g">120</td><td class="g">127</td><td class="e r">-132</td><td class="b a2">127</td><td class="b">231</td><td class="c">IRG</td><td class="c">SEN M 88</td><td class="c">293,97</td></tr>
<tr><td class="lic">475880</td><td class="l">MAZOUZ Patrice</td><td class="an">2002</td><td class="l">CLUB HALTÉROPHILIE PÉROLS</td><td class="l">FR</td><td class="pc">83,2</td><td class="g">90</td><td class="g">95</td><td class="e r">-100</td><td class="b a">95</td><td class="g">110</td><td class="g">115</td><td class="e r">-120</td><td class="b a2">115</td><td class="b">210</td><td class="c">REG</td><td class="c">SEN M 88</td><td class="c">262,7</td></tr>
<tr><td class="lic">512698</td><td class="l">CASARIN Hély</td><td class="an">2000</td><td class="l">MONTPELLIER TITANIUM WEIGHTLIFTING</td><td class="l">FR</td><td class="pc">89,7</td><td class="g">65</td><td class="g">70</td><td class="e r">-75</td><td class="b a">70</td><td class="g">85</td><td class="g">90</td><td class="e r">-95</td><td class="b a2">90</td><td class="b">160</td><td class="c">DPT</td><td class="c">SEN M 94</td><td class="c">192,66</td></tr>
</tbody>
</table>
</section>
<section>
<div class="logo" style="top:1682px"><svg width="110" height="100" viewBox="0 0 1736 1578" role="img" aria-label="FFHM le Lot">
<defs><linearGradient id="rg3" x1="0" y1="0" x2="0" y2="1"><stop offset="0" stop-color="#0f4ea6"/><stop offset="0.7" stop-color="#1352a8"/><stop offset="1" stop-color="#d5def0"/></linearGradient><linearGradient id="fg3" x1="0" y1="0" x2="1" y2="0"><stop offset="0" stop-color="#1c97de"/><stop offset="0.5" stop-color="#1378c6"/><stop offset="1" stop-color="#0a479d"/></linearGradient></defs>
<g transform="translate(72,5) scale(1)">
<path d="M415,108 L470,120 L522,148 L542,188 L500,202 L458,216 L436,258 L402,296 L350,286 L366,254 L332,236 L362,206 L348,176 L386,166 L384,134 Z" fill="#e8161d" stroke="#e8161d" stroke-width="8" stroke-linejoin="round"/>
<circle cx="490" cy="266" r="19" fill="#1c6db5"/>
<path d="M616,212 C536,246 484,338 582,412 C556,338 566,274 616,212 Z" fill="#1668b3"/>
<path d="M512,386 C540,392 600,470 618,528 C620,552 596,552 570,530 C530,490 500,420 512,386 Z" fill="#1a73bf"/>
<path d="M462,522 C570,585 665,720 705,900 C716,960 718,1020 714,1078 C700,950 655,830 565,735 C545,660 505,585 462,522 Z" fill="url(#rg3)"/>
<path d="M402,655 A259,259 0 0 0 162,1106 A298,298 0 0 1 402,655 Z" fill="#1d82d2"/>
<path d="M546,745 A252,252 0 0 0 286,1176 A279,279 0 0 1 546,745 Z" fill="#e8161d"/>
<path d="M502,954 C450,938 412,972 428,1002 C440,1030 458,1042 478,1046 C456,1010 464,976 502,954 Z" fill="#114fa3"/>
<path d="M424,1260 L466,1266 C442,1352 402,1442 350,1508 C380,1422 404,1340 424,1260 Z" fill="#1557ab"/>
<path d="M350,1508 L492,1444" stroke="#62b1e3" stroke-width="9" fill="none" stroke-linecap="round"/>
</g>
<path d="M918,140 L1536,140 L1290,582 L918,582 Z" fill="#199a3d"/>
<path d="M1536,140 L1550,140 L1550,716 L1246,716 L1290,582 Z" fill="#f8c314"/>
<path d="M918,582 L1290,582 L1246,716 L918,716 Z" fill="#1a82ca"/>
<path d="M1340,390 L1550,382" stroke="#e9f3d0" stroke-width="7" fill="none"/>
<path d="M950,598 Q1120,640 1300,560 Q1390,520 1470,520 L1540,524" stroke="#fff" stroke-width="13" fill="none" stroke-linecap="round"/>
<path d="M1330,520 L1400,470 L1440,500 L1480,478 L1520,500" stroke="#fff" stroke-width="9" fill="none" stroke-linejoin="round"/>
<path d="M1300,560 L1450,545" stroke="#fff" stroke-width="14" fill="none" stroke-linecap="round"/>
<text x="1030" y="560" font-family="'Liberation Serif','DejaVu Serif',serif" font-style="italic" font-size="400" fill="#fff" textLength="310" lengthAdjust="spacingAndGlyphs">Lot</text>
<text x="936" y="572" font-family="'Liberation Serif','DejaVu Serif',serif" font-style="italic" font-size="130" fill="#fff" transform="rotate(-8 936 572)" textLength="60" lengthAdjust="spacingAndGlyphs">le</text>
<text x="895" y="820" font-family="'Liberation Sans',sans-serif" font-weight="bold" font-size="78" fill="#e0242c" stroke="#e0242c" stroke-width="5" textLength="520" lengthAdjust="spacingAndGlyphs">FÉDÉRATION FRANÇAISE</text>
<text x="895" y="905" font-family="'Liberation Sans',sans-serif" font-weight="bold" font-size="78" fill="#e0242c" stroke="#e0242c" stroke-width="5" textLength="715" lengthAdjust="spacingAndGlyphs">HALTÉROPHILIE - MUSCULATION</text>
<text x="880" y="1303" font-family="'Liberation Sans',sans-serif" font-weight="bold" font-size="496" fill="url(#fg3)" stroke="url(#fg3)" stroke-width="14" textLength="745" lengthAdjust="spacingAndGlyphs">FFHM</text>
</svg></div>
<h1 style="top:1691.81px">Championnat du Lot</h1>
<div class="date" style="top:1718.84px">samedi 7 février 2026</div>
<div class="lieu" style="top:1743.14px"><span class="ll">Lieu :</span><span class="lv">HC Figeac</span></div>
<table style="top:1782px">
<colgroup><col style="width:80px"><col style="width:272px"><col style="width:39px"><col style="width:298px"><col style="width:37px"><col style="width:80px"><col style="width:80px"><col style="width:80px"><col style="width:80px"><col style="width:80px"><col style="width:80px"><col style="width:80px"><col style="width:80px"><col style="width:80px"><col style="width:80px"><col style="width:80px"><col style="width:80px"><col style="width:80px"></colgroup>
<thead><tr><th>Licence</th><th>Nom</th><th>AN</th><th>Club</th><th>NAT</th><th>P.C.</th><th>1</th><th>2</th><th>3</th><th>ARR</th><th>1</th><th>2</th><th>3</th><th>EPJ</th><th>TOTAL</th><th>Série</th><th>Catégorie</th><th>IWF</th></tr></thead>
<tbody>
<tr><td class="lic">514091</td><td class="l">CHERON Maïa</td><td class="an">2013</td><td class="l">HC FIGEAC</td><td class="l">FR</td><td class="pc">33,5</td><td class="g">12</td><td class="g">14</td><td class="e g">16</td><td class="b a">30</td><td class="g">22</td><td class="g">24</td><td class="e g">26</td><td class="b a2">50</td><td class="b">80</td><td class="c">N.C.</td><td class="c">U13 F 35</td><td class="c">176,91</td></tr>
<tr><td class="lic">514327</td><td class="l">RAVANEL Albane</td><td class="an">2014</td><td class="l">HC FIGEAC</td><td class="l">FR</td><td class="pc">37,5</td><td class="g">7</td><td class="g">9</td><td class="e g">11</td><td class="b a">20</td><td class="g">10</td><td class="g">12</td><td class="e g">13</td><td class="b a2">25</td><td class="b">45</td><td class="c">N.C.</td><td class="c">U13 F 40</td><td class="c">88,86</td></tr>
<tr><td class="lic">501983</td><td class="l">ROUCHER Erell</td><td class="an">2014</td><td class="l">HC FIGEAC</td><td class="l">FR</td><td class="pc">42</td><td class="g">22</td><td class="g">24</td><td class="e r">-26</td><td class="b a">46</td><td class="g">28</td><td class="g">30</td><td class="e g">32</td><td class="b a2">62</td><td class="b">108</td><td class="c">N.C.</td><td class="c">U13 F 44</td><td class="c">192,04</td></tr>
<tr><td class="lic">469353</td><td class="l">THOMARAT Juliette</td><td class="an">2013</td><td class="l">HC MONTALBANAIS</td><td class="l">FR</td><td class="pc">50,7</td><td class="g">32</td><td class="g">34</td><td class="e g">36</td><td class="b a">70</td><td class="g">40</td><td class="g">42</td><td class="e g">44</td><td class="b a2">86</td><td class="b">156</td><td class="c">N.C.</td><td class="c">U13 F 53</td><td class="c">237,59</td></tr>
<tr class="gap"><td colspan="18"></td></tr>
<tr><td class="lic">479426</td><td class="l">FALIES Annaë</td><td class="an">2011</td><td class="l">HC FIGEAC</td><td class="l">FR</td><td class="pc">47,4</td><td class="g">32</td><td class="r">-34</td><td class="e g">34</td><td class="b a">34</td><td class="g">42</td><td class="g">44</td><td class="e r">-46</td><td class="b a2">44</td><td class="b">78</td><td class="c">HON</td><td class="c">U15 F 48</td><td class="c">125,21</td></tr>
<tr><td class="lic">479033</td><td class="l">CAUMON Zoé</td><td class="an">2011</td><td class="l">HC FIGEAC</td><td class="l">FR</td><td class="pc">52,2</td><td class="g">33</td><td class="g">36</td><td class="e r">-38</td><td class="b a">36</td><td class="g">42</td><td class="g">45</td><td class="e g">47</td><td class="b a2">47</td><td class="b">83</td><td class="c">HON</td><td class="c">U15 F 53</td><td class="c">123,68</td></tr>
<tr><td class="lic">512932</td><td class="l">BOUDOU Nora</td><td class="an">2009</td><td class="l">HC FIGEAC</td><td class="l">FR</td><td class="pc">45,9</td><td class="g">22</td><td class="g">25</td><td class="e r">-27</td><td class="b a">25</td><td class="g">33</td><td class="g">36</td><td class="e g">38</td><td class="b a2">38</td><td class="b">63</td><td class="c">REG</td><td class="c">U17 F 48</td><td class="c">103,81</td></tr>
<tr><td class="lic">514328</td><td class="l">SEGONDS Aëlys</td><td class="an">2009</td><td class="l">HC FIGEAC</td><td class="l">FR</td><td class="pc">56,4</td><td class="g">22</td><td class="g">25</td><td class="e r">-27</td><td class="b a">25</td><td class="g">33</td><td class="r">-36</td><td class="e g">36</td><td class="b a2">36</td><td class="b">61</td><td class="c">DPT</td><td class="c">U17 F 58</td><td class="c">86,02</td></tr>
<tr class="gap tall"><td colspan="18"></td></tr>
<tr><td class="lic">516600</td><td class="l">PANCOU Baptiste</td><td class="an">2013</td><td class="l">HC FIGEAC</td><td class="l">FR</td><td class="pc">32,3</td><td class="g">7</td><td class="g">9</td><td class="e g">11</td><td class="b a">20</td><td class="g">10</td><td class="g">12</td><td class="e g">14</td><td class="b a2">26</td><td class="b">46</td><td class="c">N.C.</td><td class="c">U13 M 36</td><td class="c">125,87</td></tr>
<tr><td class="lic">514326</td><td class="l">MALARD Sacha</td><td class="an">2014</td><td class="l">HC FIGEAC</td><td class="l">FR</td><td class="pc">31,3</td><td class="g">2</td><td class="g">4</td><td class="e g">6</td><td class="b a">10</td><td class="g">7</td><td class="g">8</td><td class="e g">9</td><td class="b a2">17</td><td class="b">27</td><td class="c">N.C.</td><td class="c">U13 M 36</td><td class="c">76,56</td></tr>
<tr><td class="lic">512933</td><td class="l">AGUINAGA Gabriel</td><td class="an">2014</td><td class="l">HC FIGEAC</td><td class="l">FR</td><td class="pc">47</td><td class="g">15</td><td class="g">17</td><td class="e r">-19</td><td class="b a">32</td><td class="g">22</td><td class="g">24</td><td class="e g">26</td><td class="b a2">50</td><td class="b">82</td><td class="c">N.C.</td><td class="c">U13 M 47</td><td class="c">153,82</td></tr>
<tr class="gap"><td colspan="18"></td></tr>
<tr><td class="lic">496898</td><td class="l">GUIRAL LIACHENKO Giany</td><td class="an">2011</td><td class="l">HC FIGEAC</td><td class="l">FR</td><td class="pc">63,3</td><td class="g">42</td><td class="g">45</td><td class="e r">-47</td><td class="b a">45</td><td class="g">53</td><td class="r">-57</td><td class="e g">57</td><td class="b a2">57</td><td class="b">102</td><td class="c">IRG</td><td class="c">U15 M 65</td><td class="c">151</td></tr>
<tr><td class="lic">496911</td><td class="l">LOUDIYI Omar</td><td class="an">2010</td><td class="l">HC FIGEAC</td><td class="l">FR</td><td class="pc">62,8</td><td class="g">40</td><td class="g">44</td><td class="e r">-47</td><td class="b a">44</td><td class="r">-53</td><td class="g">53</td><td class="e r">-58</td><td class="b a2">53</td><td class="b">97</td><td class="c">DPT</td><td class="c">U17 M 65</td><td class="c">144,4</td></tr>
<tr><td class="lic">445356</td><td class="l">FILHES Marius</td><td class="an">2010</td><td class="l">HC FIGEAC</td><td class="l">FR</td><td class="pc">75,8</td><td class="g">63</td><td class="g">67</td><td class="e r">-70</td><td class="b a">67</td><td class="g">80</td><td class="g">85</td><td class="e r">-90</td><td class="b a2">85</td><td class="b">152</td><td class="c">IRG</td><td class="c">U17 M 79</td><td class="c">200,31</td></tr>
</tbody>
</table>
</section>
</body>
</html>
